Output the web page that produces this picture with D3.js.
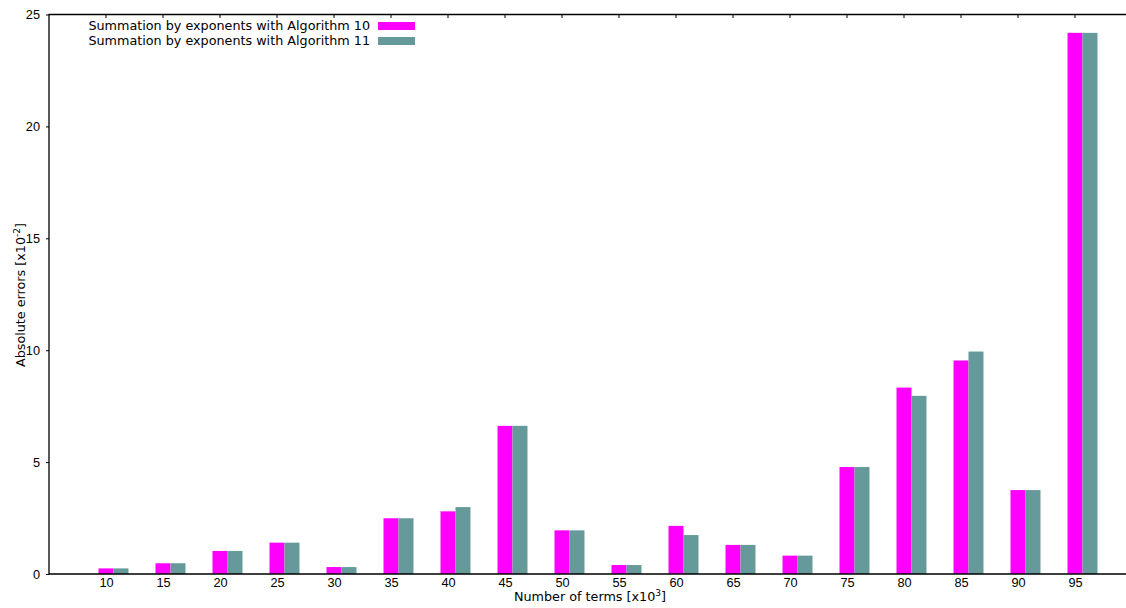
<!DOCTYPE html>
<html>
<head>
<meta charset="utf-8">
<script src="https://cdn.jsdelivr.net/npm/d3@7"></script>
<style>
  html, body { margin: 0; padding: 0; background: #fff; }
  svg { display: block; font-family: "DejaVu Sans", sans-serif; }
</style>
</head>
<body>
<svg id="chart" width="1126" height="608"></svg>
<script>
// Number of terms (x10^3)
const terms = [10, 15, 20, 25, 30, 35, 40, 45, 50, 55, 60, 65, 70, 75, 80, 85, 90, 95];
// Absolute errors (x10^-2)
const alg10 = [0.25, 0.48, 1.03, 1.40, 0.31, 2.49, 2.80, 6.62, 1.95, 0.40, 2.15, 1.30, 0.82, 4.78, 8.33, 9.54, 3.75, 24.18];
const alg11 = [0.25, 0.48, 1.03, 1.40, 0.31, 2.49, 2.99, 6.62, 1.95, 0.40, 1.74, 1.30, 0.82, 4.78, 7.96, 9.94, 3.75, 24.18];
const seriesNames = ["Summation by exponents with Algorithm 10", "Summation by exponents with Algorithm 11"];
const seriesColors = ["#ff00ff", "#669999"];
const yTicks = [0, 5, 10, 15, 20, 25];

const svg = d3.select("#chart");
const plotLeft = 49, plotTop = 14.5, plotBottom = 574;
const fs = 12.75;

// x: category index, plot spans -1 .. 18
const x = d3.scaleLinear().domain([-1, 18]).range([plotLeft, plotLeft + 19 * 57]);
const y = d3.scaleLinear().domain([0, 25]).range([plotBottom, plotTop]);
const barW = x(0.263) - x(0);

const series = [alg10, alg11];
series.forEach((vals, s) => {
  svg.append("g").selectAll("rect")
    .data(vals)
    .join("rect")
    .attr("x", (d, i) => x(i) - barW / 2 + s * barW)
    .attr("y", d => y(d))
    .attr("width", barW)
    .attr("height", d => y(0) - y(d))
    .attr("fill", seriesColors[s]);
});

// Axes
const xAxis = d3.axisBottom(x)
  .tickValues(d3.range(terms.length))
  .tickFormat(i => terms[i])
  .tickSize(0).tickPadding(4);
const gx = svg.append("g").attr("transform", `translate(0,${plotBottom})`).call(xAxis);
gx.select(".domain").remove();
gx.selectAll("text").attr("font-size", fs).attr("fill", "#000");

const yAxis = d3.axisLeft(y).tickValues(yTicks).tickSize(3).tickPadding(6);
const gy = svg.append("g").attr("transform", `translate(${plotLeft},0)`).call(yAxis);
gy.select(".domain").remove();
gy.selectAll("line").attr("stroke", "#000");
gy.selectAll("text").attr("font-size", fs).attr("fill", "#000");

// Border: left, bottom, top
const xr = x(18);
svg.append("path")
  .attr("d", `M${xr},${plotTop}H${plotLeft}V${plotBottom}H${xr}`)
  .attr("fill", "none").attr("stroke", "#000").attr("stroke-width", 1.3);

// Mirrored ticks on top border
svg.append("g").selectAll("line")
  .data(d3.range(terms.length))
  .join("line")
  .attr("x1", i => x(i)).attr("x2", i => x(i))
  .attr("y1", plotTop).attr("y2", plotTop + 3.5)
  .attr("stroke", "#000");

// Axis titles
const xt = svg.append("text")
  .attr("x", 590).attr("y", 601)
  .attr("text-anchor", "middle").attr("font-size", fs);
xt.append("tspan").text("Number of terms [x10");
xt.append("tspan").text("3").attr("font-size", 9).attr("dy", -5);
xt.append("tspan").text("]").attr("dy", 5);

const yt = svg.append("text")
  .attr("transform", `translate(24.5,${295}) rotate(-90)`)
  .attr("text-anchor", "middle").attr("font-size", fs);
yt.append("tspan").text("Absolute errors [x10");
yt.append("tspan").text("-2").attr("font-size", 9).attr("dy", -5);
yt.append("tspan").text("]").attr("dy", 5);

// Legend
const legend = svg.append("g");
seriesNames.forEach((name, s) => {
  const cy = 26 + s * 15;
  legend.append("text")
    .attr("x", 370).attr("y", cy).attr("dy", "0.35em")
    .attr("text-anchor", "end").attr("font-size", fs)
    .text(name);
  legend.append("rect")
    .attr("x", 378).attr("y", cy - 4)
    .attr("width", 37).attr("height", 8)
    .attr("fill", seriesColors[s]);
});
</script>
</body>
</html>
